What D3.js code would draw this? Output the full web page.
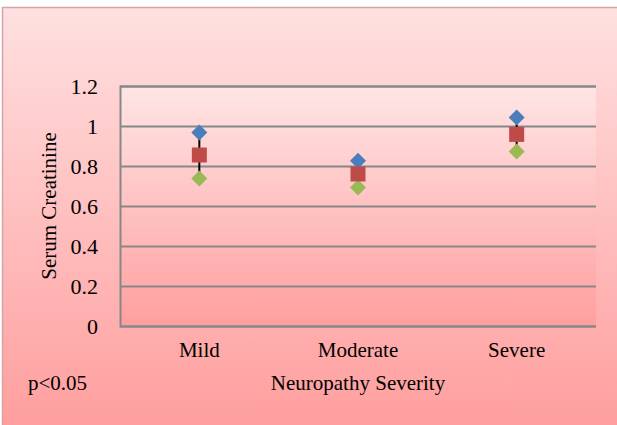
<!DOCTYPE html>
<html><head><meta charset="utf-8">
<script src="https://cdn.jsdelivr.net/npm/d3@7"></script>
<style>html,body{margin:0;padding:0;background:#fff;}svg{display:block;}</style>
</head><body>
<script>
const categories = ["Mild", "Moderate", "Severe"];
const highValues = [0.968, 0.826, 1.043];
const meanValues = [0.855, 0.760, 0.958];
const lowValues  = [0.737, 0.693, 0.872];
const yTicks = [0, 0.2, 0.4, 0.6, 0.8, 1, 1.2];
const yTickLabels = ["0", "0.2", "0.4", "0.6", "0.8", "1", "1.2"];
const xTitle = "Neuropathy Severity";
const yTitle = "Serum Creatinine";
const note = "p<0.05";

const W = 617, H = 425;
const svg = d3.select("body").append("svg").attr("width", W).attr("height", H);
const defs = svg.append("defs");
const g1 = defs.append("linearGradient").attr("id","bgGrad").attr("x1",0).attr("y1",0).attr("x2",0).attr("y2",1);
g1.append("stop").attr("offset","0%").attr("stop-color","#ffe0e0");
g1.append("stop").attr("offset","100%").attr("stop-color","#ff9d9d");
const g2 = defs.append("linearGradient").attr("id","plotGrad").attr("x1",0).attr("y1",0).attr("x2",0).attr("y2",1);
g2.append("stop").attr("offset","0%").attr("stop-color","#ffe5e5");
g2.append("stop").attr("offset","100%").attr("stop-color","#ff9f9f");

svg.append("rect").attr("x",2.5).attr("y",7.5).attr("width",W).attr("height",H)
  .attr("fill","url(#bgGrad)").attr("stroke","#d6a4a4").attr("stroke-width",1.5);

const m = {left:120, top:86, right:596, bottom:326};
const x = d3.scaleBand().domain(categories).range([m.left, m.right]);
const y = d3.scaleLinear().domain([0, 1.2]).range([m.bottom, m.top]);

svg.append("rect").attr("x",m.left).attr("y",m.top).attr("width",m.right-m.left).attr("height",m.bottom-m.top)
  .attr("fill","url(#plotGrad)");

const font = "'Liberation Serif','Times New Roman',serif";

// gridlines
const yAxis = d3.axisLeft(y).tickValues(yTicks).tickSize(-(m.right-m.left)).tickFormat((d,i)=>yTickLabels[i]);
const ya = svg.append("g").attr("transform",`translate(${m.left},0)`).call(yAxis);
ya.select(".domain").attr("stroke","#878787").attr("stroke-width",2);
ya.selectAll(".tick line").attr("stroke","#878787").attr("stroke-width",2);
ya.selectAll(".tick text").attr("x",-22).attr("fill","#000").style("font-family",font).style("font-size","22px");

// x labels
const xAxis = d3.axisBottom(x).tickSize(0);
const xa = svg.append("g").attr("transform",`translate(0,${m.bottom})`).call(xAxis);
xa.select(".domain").remove();
xa.selectAll(".tick text").attr("y",16).attr("fill","#000").style("font-family",font).style("font-size","21px");

// hi-lo lines
const grp = svg.append("g");
categories.forEach((c,i)=>{
  const cx = x(c) + x.bandwidth()/2;
  grp.append("line").attr("x1",cx).attr("x2",cx).attr("y1",y(highValues[i])).attr("y2",y(lowValues[i]))
    .attr("stroke","#000").attr("stroke-width",2);
});
const diamond = d3.symbol().type(d3.symbolSquare).size(128);
categories.forEach((c,i)=>{
  const cx = x(c) + x.bandwidth()/2;
  grp.append("path").attr("d",diamond()).attr("transform",`translate(${cx},${y(highValues[i])}) rotate(45)`).attr("fill","#4a7ebb");
  grp.append("path").attr("d",diamond()).attr("transform",`translate(${cx},${y(lowValues[i])}) rotate(45)`).attr("fill","#98b954");
  grp.append("rect").attr("x",cx-7.5).attr("y",y(meanValues[i])-7.5).attr("width",15).attr("height",15).attr("fill","#be4b48");
});

// titles
svg.append("text").attr("x",(m.left+m.right)/2).attr("y",390).attr("text-anchor","middle")
  .style("font-family",font).style("font-size","21px").text(xTitle);
svg.append("text").attr("transform",`translate(56,206) rotate(-90)`).attr("text-anchor","middle")
  .style("font-family",font).style("font-size","21px").text(yTitle);
svg.append("text").attr("x",28).attr("y",390).style("font-family",font).style("font-size","21px").text(note);
</script>
</body></html>
